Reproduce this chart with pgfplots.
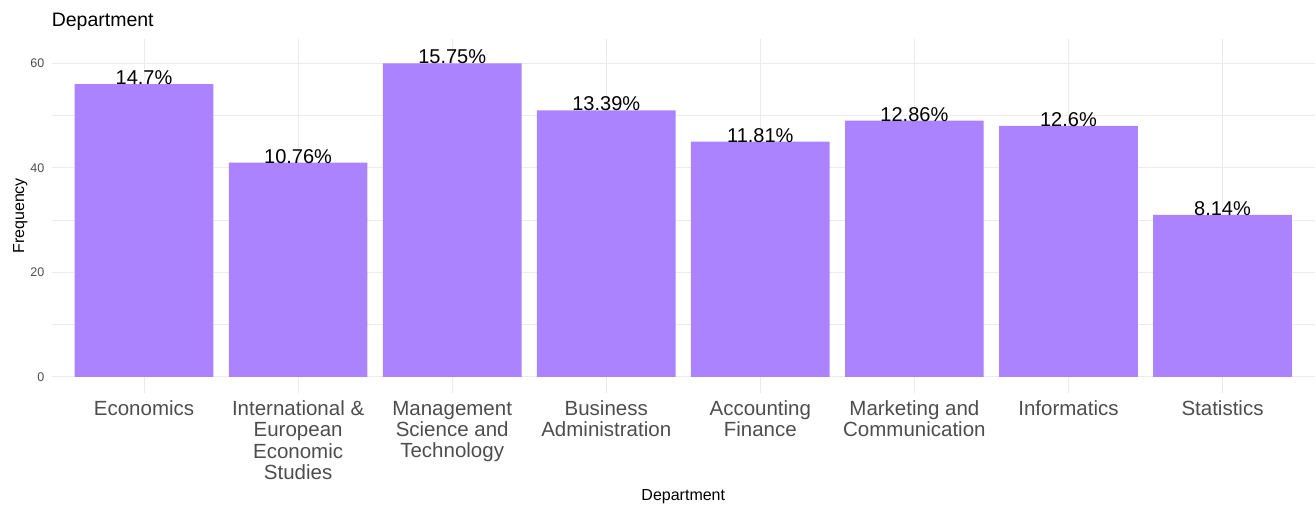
\documentclass[border=0pt]{standalone}
\usepackage{pgfplots}
\pgfplotsset{compat=1.18}
\usepackage{fontspec}
\setmainfont{Liberation Sans}
\definecolor{barc}{HTML}{AB82FF}
\definecolor{gridc}{HTML}{EBEBEB}
\definecolor{tickc}{HTML}{4D4D4D}
\begin{document}
\begin{tikzpicture}
\useasboundingbox (-51.6pt,-112pt) rectangle (1264.4pt,393pt);
\begin{axis}[
  at={(0pt,0pt)}, anchor=south west,
  scale only axis, width=1263.4pt, height=354.3pt,
  xmin=-0.6, xmax=7.6, ymin=-3.1, ymax=64.7,
  axis line style={draw=none},
  tick style={draw=none},
  xtick={0,1,2,3,4,5,6,7},
  xticklabels={Economics, {International \&\\European\\Economic\\Studies}, {Management\\Science and\\Technology}, {Business\\Administration}, {Accounting\\Finance}, {Marketing and\\Communication}, Informatics, Statistics},
  xticklabel style={align=center, anchor=north, inner sep=0pt, yshift=-7.8pt, text=tickc, font=\fontsize{20.5}{21.1}\selectfont},
  ytick={0,20,40,60}, minor ytick={10,30,50},
  yticklabel style={anchor=east, inner sep=0pt, xshift=-7pt, text=tickc, font=\fontsize{12.5}{14}\selectfont},
  xmajorgrids, ymajorgrids, yminorgrids,
  major grid style={draw=gridc, line width=1pt},
  minor grid style={draw=gridc, line width=0.5pt},
  title={Department},
  title style={at={(axis description cs:0,1)}, anchor=base west, yshift=6pt, inner sep=0pt, font=\fontsize{19.5}{21}\selectfont},
  xlabel={Department},
  xlabel style={at={(axis description cs:0.5,0)}, anchor=base, yshift=-107pt, inner sep=0pt, font=\fontsize{16}{18}\selectfont},
  ylabel={Frequency},
  ylabel style={at={(axis description cs:-0.02184,0.5)}, anchor=base, inner sep=0pt, font=\fontsize{16}{18}\selectfont},
  /pgf/number format/assume math mode=true,
]
\addplot[ybar, bar width=138.7pt, fill=barc, draw=none,
  point meta=explicit symbolic,
  nodes near coords,
  nodes near coords style={anchor=base, yshift=-0.7pt, inner sep=0pt, text=black, font=\fontsize{20}{21}\selectfont}]
coordinates {
  (0,56) [14.7\%]
  (1,41) [10.76\%]
  (2,60) [15.75\%]
  (3,51) [13.39\%]
  (4,45) [11.81\%]
  (5,49) [12.86\%]
  (6,48) [12.6\%]
  (7,31) [8.14\%]
};
\end{axis}
\end{tikzpicture}
\end{document}
